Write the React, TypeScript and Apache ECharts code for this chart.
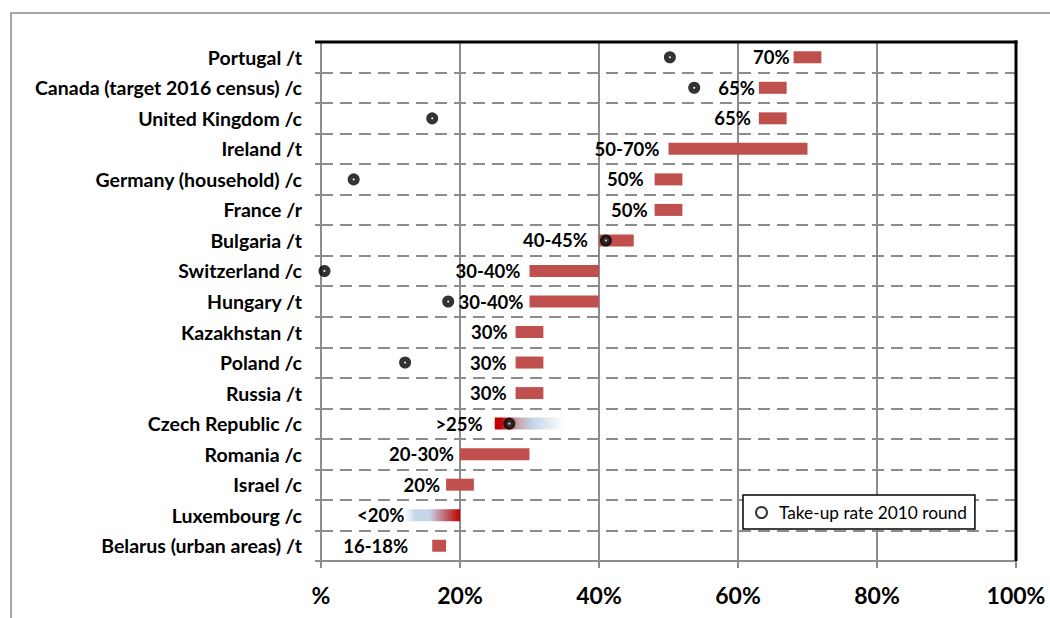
import React, { useEffect, useRef } from "react";
import * as echarts from "echarts";

const categories = [
  "Portugal /t",
  "Canada (target 2016 census) /c",
  "United Kingdom /c",
  "Ireland /t",
  "Germany (household) /c",
  "France /r",
  "Bulgaria /t",
  "Switzerland /c",
  "Hungary /t",
  "Kazakhstan /t",
  "Poland /c",
  "Russia /t",
  "Czech Republic /c",
  "Romania /c",
  "Israel /c",
  "Luxembourg /c",
  "Belarus (urban areas) /t",
];
const targetLow = [68, 63, 63, 50, 48, 48, 40, 30, 30, 28, 28, 28, 25, 20, 18, 12, 16];
const targetHigh = [72, 67, 67, 70, 52, 52, 45, 40, 40, 32, 32, 32, 35, 30, 22, 20, 18];
const targetLabels = [
  "70%", "65%", "65%", "50-70%", "50%", "50%", "40-45%", "30-40%", "30-40%",
  "30%", "30%", "30%", ">25%", "20-30%", "20%", "<20%", "16-18%",
];
const takeUp2010: (number | null)[] = [
  50.2, 53.7, 16.0, null, 4.7, null, 41, 0.5, 18.3, null, 12.1, null, 27.1, null, null, null, null,
];
const xTickLabels = ["%", "20%", "40%", "60%", "80%", "100%"];

// style-only: gap between label and bar (px), and which bars are gradient-faded
const labelGap = [4, 4, 8, 9, 11, 7, 11, 9, 6, 8, 9, 9, 12, 6, 6, 0, 24];
const fadeRight = "Czech Republic /c";
const fadeLeft = "Luxembourg /c";

const FONT = "Lato, 'Open Sans', sans-serif";
const BAR = "#c0504d";
const GRID = "#8c8c8c";

// layout of the plot frame (px)
const PLOT_LEFT = 321;
const PLOT_RIGHT = 34;
const PLOT_TOP = 42;
const PLOT_BOTTOM = 57;
const W = 1050;
const H = 618;

export default function App() {
  const ref = useRef<HTMLDivElement>(null);
  useEffect(() => {
    if (!ref.current) return;
    const chart = echarts.init(ref.current, null, { renderer: "svg" });

    const rangeData = categories.map((c, i) => {
      const item: any = {
        value: targetHigh[i] - targetLow[i],
        label: { distance: labelGap[i] },
      };
      if (c === fadeRight) {
        item.itemStyle = {
          color: new echarts.graphic.LinearGradient(0, 0, 1, 0, [
            { offset: 0, color: "#c00000" },
            { offset: 0.08, color: "#c00000" },
            { offset: 0.33, color: "#c7a3ab" },
            { offset: 0.55, color: "#c6d5ea" },
            { offset: 1, color: "#ffffff" },
          ]),
        };
      }
      if (c === fadeLeft) {
        item.itemStyle = {
          color: new echarts.graphic.LinearGradient(0, 0, 1, 0, [
            { offset: 0, color: "#ffffff" },
            { offset: 0.2, color: "#c6d5ea" },
            { offset: 0.45, color: "#c6d5ea" },
            { offset: 0.75, color: "#c0606a" },
            { offset: 1, color: "#c00000" },
          ]),
        };
      }
      return item;
    });

    const dotData: any[] = [];
    takeUp2010.forEach((v, i) => {
      if (v !== null) dotData.push([v, categories[i]]);
    });

    const plotW = W - PLOT_LEFT - PLOT_RIGHT;
    const plotH = H - PLOT_TOP - PLOT_BOTTOM;

    chart.setOption({
      animation: false,
      backgroundColor: "#ffffff",
      textStyle: { fontFamily: FONT },
      grid: {
        left: PLOT_LEFT,
        right: PLOT_RIGHT,
        top: PLOT_TOP,
        bottom: PLOT_BOTTOM,
        show: false,
      },
      graphic: {
        elements: [
          {
            type: "polyline",
            shape: { points: [[11, 640], [11, 13], [1060, 13]] },
            style: { stroke: "#a6a6a6", lineWidth: 2, fill: "none" },
            silent: true,
          },
          {
            type: "rect",
            z: 50,
            shape: { x: PLOT_LEFT + plotW - 1.5, y: PLOT_TOP - 1.5, width: 3, height: plotH + 1.5 },
            style: { fill: "#000000" },
            silent: true,
          },
          {
            type: "rect",
            z: 50,
            shape: { x: PLOT_LEFT - 6, y: PLOT_TOP - 1.5, width: plotW + 7.5, height: 3 },
            style: { fill: "#000000" },
            silent: true,
          },
        ],
      },
      legend: {
        left: 743,
        top: 495,
        orient: "horizontal",
        backgroundColor: "#fff",
        borderColor: "#000",
        borderWidth: 1.5,
        borderRadius: 0,
        padding: [9, 8, 8, 12],
        itemWidth: 11,
        itemHeight: 11,
        data: [{ name: "Take-up rate 2010 round", icon: "circle" }],
        textStyle: {
          fontFamily: FONT,
          fontSize: 17.3,
          color: "#000",
          padding: [0, 0, 0, 7],
        },
      },
      xAxis: {
        type: "value",
        min: 0,
        max: 100,
        interval: 20,
        axisLine: { show: true, lineStyle: { color: GRID, width: 2 } },
        axisTick: { show: true, length: 7, lineStyle: { color: GRID, width: 2 } },
        splitLine: {
          show: true,
          showMinLine: false,
          showMaxLine: false,
          lineStyle: { color: GRID, width: 2 },
        },
        axisLabel: {
          margin: 22,
          fontFamily: FONT,
          fontSize: 23,
          fontWeight: "bold",
          color: "#000",
          formatter: (v: number) => xTickLabels[Math.round(v / 20)],
        },
      },
      yAxis: {
        type: "category",
        data: categories,
        inverse: true,
        axisLine: { show: true, lineStyle: { color: GRID, width: 2 } },
        axisTick: { show: true, length: 6, lineStyle: { color: GRID, width: 2 } },
        splitLine: {
          show: true,
          lineStyle: { color: GRID, width: 2, type: [12, 7] },
        },
        axisLabel: {
          margin: 19,
          fontFamily: FONT,
          fontSize: 19.5,
          fontWeight: "bold",
          color: "#000",
        },
      },
      series: [
        {
          name: "base",
          type: "bar",
          stack: "t",
          silent: true,
          barWidth: 12,
          itemStyle: { color: "rgba(0,0,0,0)" },
          data: targetLow,
        },
        {
          name: "target",
          type: "bar",
          stack: "t",
          barWidth: 12,
          itemStyle: { color: BAR },
          label: {
            show: true,
            position: "left",
            fontFamily: FONT,
            fontSize: 18.5,
            fontWeight: "bold",
            color: "#000",
            formatter: (p: any) => targetLabels[p.dataIndex],
          },
          data: rangeData,
          z: 2,
        },
        {
          name: "Take-up rate 2010 round",
          type: "scatter",
          symbol: "circle",
          symbolSize: 7,
          itemStyle: { color: "#ffffff", borderColor: "#000", borderWidth: 5 },
          data: dotData,
          z: 5,
        },
      ],
    });
    return () => chart.dispose();
  }, []);
  return (
    <div
      ref={ref}
      style={{ position: "fixed", left: 0, top: 0, width: W, height: H }}
    />
  );
}
